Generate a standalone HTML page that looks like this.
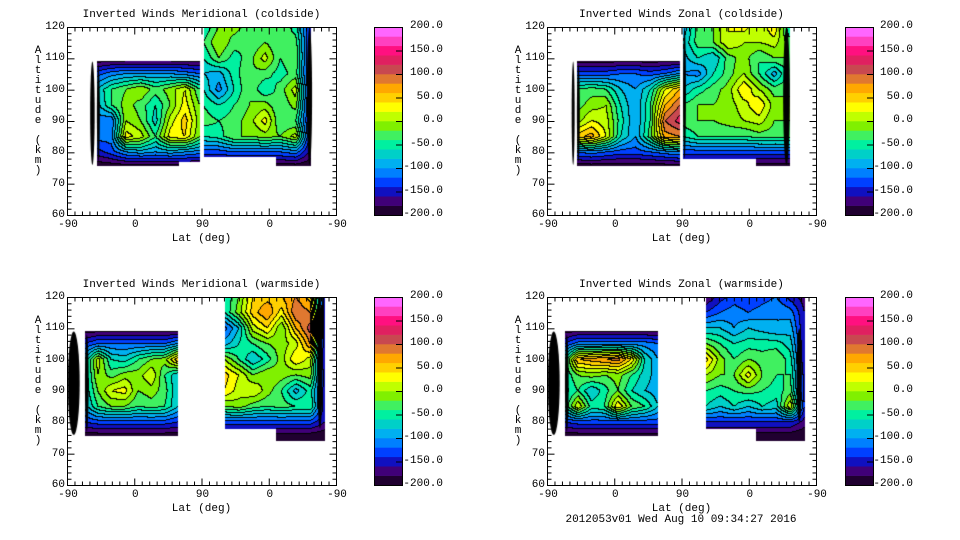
<!DOCTYPE html>
<html><head><meta charset="utf-8">
<style>
html,body{margin:0;padding:0;background:#fff;}
body{width:960px;height:540px;position:relative;overflow:hidden;font-family:"Liberation Mono","DejaVu Sans Mono",monospace;font-size:11px;color:#000;}
.abs{position:absolute;white-space:nowrap;}
canvas{position:absolute;}
</style></head>
<body>
<div id="root"></div>
<script>
// color levels (band 0 = -200..-180 ... band 19 = 180..200)
const levelColors = ["#200030","#400078","#1010c0","#0040ff","#0080ff","#00b0f0","#00d0c8","#00f0a0","#40f060","#80f000","#c0ff00","#ffff00","#ffd000","#ffa800","#e07830","#c84850","#e02060","#ff1080","#ff40c0","#ff66ff"];
const cbTicks = [-200,-150,-100,-50,0,50,100,150,200];
const cbTickLabels = ["-200.0","-150.0","-100.0","-50.0","0.0","50.0","100.0","150.0","200.0"];
const xTickLabels = ["-90","0","90","0","-90"];
const yTicks = [60,70,80,90,100,110,120];
const altRows = [120,115,110,105,100,95,90,85,80,75];
const titles = ["Inverted Winds Meridional (coldside)","Inverted Winds Zonal (coldside)","Inverted Winds Meridional (warmside)","Inverted Winds Zonal (warmside)"];
const N8=[-200,-200,-200,-200,-200,-200,-200,-200];

const tlLeft = [N8,N8,N8,[-130,-110,-100,-100,-100,-100,-110,-120],[-80,-40,-20,0,-30,-10,20,-40],[-90,-40,-10,-30,-60,-20,30,-20],[-110,-120,0,-20,-70,10,50,-10],[-110,-110,30,10,-40,30,40,-20],[-150,-130,-100,-90,-100,-90,-100,-110],N8];
const tlRight = [[-60,-20,-10,-30,-40,-20,-50,-150],[-40,0,-30,-40,-20,-40,-30,-150],[-60,-20,-50,-30,10,-40,-20,-160],[-80,-90,-50,-20,-30,-50,-30,-160],[-60,-110,-60,-20,-60,-30,10,-160],[-40,-60,-40,-20,-10,-40,-10,-160],[-30,-40,-30,-10,30,-40,-40,-160],[-60,-50,-20,-20,-10,-20,10,-160],[-130,-130,-120,-120,-120,-120,-110,-170],N8];
const trLeft = [N8,N8,N8,[-130,-130,-130,-120,-120,-130,-120,-100],[-40,-30,-40,-80,-100,-60,20,60],[-30,-10,0,-60,-100,-40,60,100],[-10,20,10,-50,-100,-40,100,130],[50,70,20,-60,-100,-30,70,80],[-120,-110,-120,-130,-130,-120,-110,-100],N8];
const trRight = [[-100,-30,-20,20,30,0,40,-60],[-80,-30,-20,20,0,0,10,-30],[-90,-60,-80,-30,-10,-40,-20,-20],[-100,-110,-60,-30,0,-40,-90,-30],[-80,-50,-30,-10,40,0,-30,-20],[-40,-20,-20,-10,10,40,-10,-20],[-30,-20,-20,-10,0,10,-20,-20],[-60,-40,-40,-40,-40,-30,-30,-30],[-130,-130,-130,-130,-130,-130,-130,-130],N8];
const blLeft = [N8,N8,N8,[-140,-120,-120,-120,-120,-120,-120,-100],[-80,10,-60,-70,-40,-20,-10,60],[-80,0,-30,-10,-10,20,-40,-80],[-80,-20,20,30,-20,-10,-30,-80],[-90,-40,-20,-20,-40,-30,-40,-80],[-140,-130,-130,-130,-130,-130,-130,-140],N8];
const blRight = [[-60,-20,40,50,60,80,50,-150],[-60,-10,50,80,30,100,80,-150],[-130,-80,10,40,-20,60,110,-160],[-90,-60,-40,-20,-10,10,80,-160],[0,-40,-80,-50,-10,40,10,-160],[50,20,-20,0,-10,-20,-10,-150],[40,10,20,-10,-40,-90,-50,-150],[-20,-10,-30,-40,-30,-40,-40,-150],[-130,-130,-130,-130,-130,-130,-130,-160],N8];
const brLeft = [N8,N8,N8,[-140,-110,-110,-110,-110,-110,-110,-120],[-60,60,70,80,90,40,-60,-100],[-60,-20,-10,-20,-10,-40,-70,-90],[-70,-40,-80,-50,-20,-60,-80,-90],[-60,20,-50,-40,40,-20,-40,-80],[-140,-130,-130,-130,-130,-130,-130,-130],N8];
const brRight = [[-180,-150,-130,-140,-130,-120,-150,-170],[-140,-120,-110,-120,-110,-100,-110,-160],[-80,-80,-100,-80,-90,-100,-90,-160],[-20,-40,-60,-50,-50,-50,-70,-160],[50,-10,-40,-20,-30,-20,-50,-160],[0,-20,-20,30,-20,-40,-40,-150],[-40,-50,-40,-30,-40,-50,-30,-150],[-60,-80,-60,-80,-60,-70,20,-140],[-140,-140,-140,-140,-140,-140,-140,-170],N8];

const panels = [
 {x:67,y:27,cbx:374,lbx:443,blocks:[{t0:40,t1:178,g:tlLeft,m:[[40,150,75.5,109],[150,178,77,109]]},{t0:183,t1:327,g:tlRight,m:[[183,280,78.5,120],[280,327,75.5,120]]}],black:[[31,37,76,109],[40,44,77,108],[321,328,76,120]]},
 {x:547,y:27,cbx:845,lbx:913,blocks:[{t0:40,t1:178,g:trLeft,m:[[40,178,75.5,109]]},{t0:182,t1:325,g:trRight,m:[[182,280,78,120],[280,325,75.5,120]]}],black:[[33,37,76,109],[40,44,77,108],[182,186,78,120],[316,325,76,120]]},
 {x:67,y:297,cbx:374,lbx:443,blocks:[{t0:24,t1:149,g:blLeft,m:[[24,149,75.5,109]]},{t0:211,t1:345,g:blRight,m:[[211,345,78,120],[280,345,74,78]]}],black:[[1,17,76,109],[24,29,77,108],[335,342,78,118]]},
 {x:547,y:297,cbx:845,lbx:913,blocks:[{t0:24,t1:149,g:brLeft,m:[[24,149,75.5,109]]},{t0:213,t1:345,g:brRight,m:[[213,345,78,120],[280,345,74,78]]}],black:[[1,17,76,109],[24,29,77,108],[334,341,80,110]]}
];
const W=269,H=188;
const tToX = t => t/360*W;
const altToY = a => (120-a)/60*H;
const vToCb = v => H-(v+200)/400*H;

function hexRgb(h){return [parseInt(h.substr(1,2),16),parseInt(h.substr(3,2),16),parseInt(h.substr(5,2),16)];}
const rgb = levelColors.map(hexRgb);
function sample(b,t,a){
  const g=b.g, nc=g[0].length;
  let cx=(t-b.t0)/(b.t1-b.t0)*(nc-1); cx=Math.max(0,Math.min(nc-1.0001,cx));
  let ry=(120-a)/5; ry=Math.max(0,Math.min(altRows.length-1.0001,ry));
  const i=Math.floor(cx), j=Math.floor(ry), fx=cx-i, fy=ry-j;
  return g[j][i]*(1-fx)*(1-fy)+g[j][i+1]*fx*(1-fy)+g[j+1][i]*(1-fx)*fy+g[j+1][i+1]*fx*fy;
}
const root=document.getElementById('root');
function txt(s,x,y,align,name){
  const d=document.createElement('div');d.className='abs';d.textContent=s;
  
  
  d.style.top=(y-6)+'px';
  if(align==='r'){d.style.right=(960-x)+'px';}
  else if(align==='c'){d.style.left=(x-200)+'px';d.style.width='400px';d.style.textAlign='center';}
  else d.style.left=x+'px';
  root.appendChild(d);return d;
}
panels.forEach((p,pi)=>{
  const cv=document.createElement('canvas');cv.width=W;cv.height=H;
  cv.style.left=p.x+'px';cv.style.top=p.y+'px';
  
  
  root.appendChild(cv);
  const ctx=cv.getContext('2d');const img=ctx.createImageData(W,H);
  const band=new Int16Array(W*H).fill(-1);
  for(let py=0;py<H;py++)for(let px=0;px<W;px++){
    const t=(px+0.5)/W*360, a=120-(py+0.5)/H*60;
    for(const b of p.blocks){
      if(b.m.some(r=>t>=r[0]&&t<=r[1]&&a>=r[2]&&a<=r[3])){
        const v=sample(b,t,a);band[py*W+px]=Math.max(0,Math.min(19,Math.floor((v+200)/20)));break;
      }
    }
  }
  for(let py=0;py<H;py++)for(let px=0;px<W;px++){
    const k=py*W+px,bd=band[k],o=k*4;
    if(bd<0){img.data[o]=255;img.data[o+1]=255;img.data[o+2]=255;img.data[o+3]=255;continue;}
    let c=rgb[bd];
    const r=px+1<W?band[k+1]:-1, d=py+1<H?band[k+W]:-1;
    if((r>=0&&r!==bd)||(d>=0&&d!==bd)) c=[0,0,0];
    img.data[o]=c[0];img.data[o+1]=c[1];img.data[o+2]=c[2];img.data[o+3]=255;
  }
  ctx.putImageData(img,0,0);
  ctx.fillStyle='#000';
  p.black.forEach(r=>{const x0=tToX(r[0]),x1=tToX(r[1]),y0=altToY(r[3]),y1=altToY(r[2]);
    ctx.beginPath();ctx.ellipse((x0+x1)/2,(y0+y1)/2,(x1-x0)/2,(y1-y0)/2,0,0,Math.PI*2);ctx.fill();});
  const ns='http://www.w3.org/2000/svg';
  const svg=document.createElementNS(ns,'svg');
  svg.setAttribute('width',W+1);svg.setAttribute('height',H+1);
  svg.style.position='absolute';svg.style.left=(p.x-0.5)+'px';svg.style.top=(p.y-0.5)+'px';svg.style.overflow='visible';
  
  
  let s='<rect x="0.5" y="0.5" width="'+W+'" height="'+H+'" fill="none" stroke="#000"/>';
  for(let a=60;a<=120;a+=2){const y=altToY(a)+0.5,L=(a%10===0)?7:4;
    s+='<line x1="0.5" x2="'+(0.5+L)+'" y1="'+y+'" y2="'+y+'" stroke="#000"/><line x1="'+(W+0.5-L)+'" x2="'+(W+0.5)+'" y1="'+y+'" y2="'+y+'" stroke="#000"/>';}
  for(let t=0;t<=360;t+=10){const x=tToX(t)+0.5,L=(t%90===0)?7:4;
    s+='<line x1="'+x+'" x2="'+x+'" y1="0.5" y2="'+(0.5+L)+'" stroke="#000"/><line x1="'+x+'" x2="'+x+'" y1="'+(H+0.5-L)+'" y2="'+(H+0.5)+'" stroke="#000"/>';}
  svg.innerHTML=s;root.appendChild(svg);
  txt(titles[pi],p.x+W/2,p.y-12,'c','chart-title');
  yTicks.forEach(a=>txt(String(a),p.x-2,p.y+altToY(a),'r','y-tick-label'));
  xTickLabels.forEach((l,i)=>txt(l,p.x+tToX(i*90)+1,p.y+H+10,'c','x-tick-label'));
  txt('Lat (deg)',p.x+W/2,p.y+H+24,'c','x-axis-title');
  const yt=document.createElement('div');yt.className='abs';
  
  
  yt.style.left=(p.x-33)+'px';yt.style.top=(p.y+19)+'px';yt.style.width='8px';yt.style.lineHeight='10px';yt.style.textAlign='center';
  yt.innerHTML='Altitude (km)'.split('').map(c=>c===' '?'&nbsp;':c).join('<br>');
  root.appendChild(yt);
  const cb=document.createElementNS(ns,'svg');
  cb.setAttribute('width',30);cb.setAttribute('height',H+1);
  cb.style.position='absolute';cb.style.left=p.cbx+'px';cb.style.top=(p.y-0.5)+'px';
  
  
  let cs='';
  levelColors.forEach((c,i)=>{const v0=-200+i*20,y1=vToCb(v0),y0=vToCb(v0+20);
    cs+='<rect x="0" y="'+y0+'" width="29" height="'+(y1-y0+0.3)+'" fill="'+c+'"/>';});
  cbTicks.forEach(v=>{const y=vToCb(v)+0.5;cs+='<line x1="22" x2="29" y1="'+y+'" y2="'+y+'" stroke="#000"/>';});
  cs+='<rect x="0.5" y="0.5" width="28" height="'+H+'" fill="none" stroke="#000"/>';
  cb.innerHTML=cs;root.appendChild(cb);
  cbTicks.forEach((v,i)=>txt(cbTickLabels[i],p.lbx,p.y+vToCb(v)-1,'r','colorbar-label'));
});
txt('2012053v01 Wed Aug 10 09:34:27 2016',681,520,'c','timestamp-footer');
</script>
</body></html>
